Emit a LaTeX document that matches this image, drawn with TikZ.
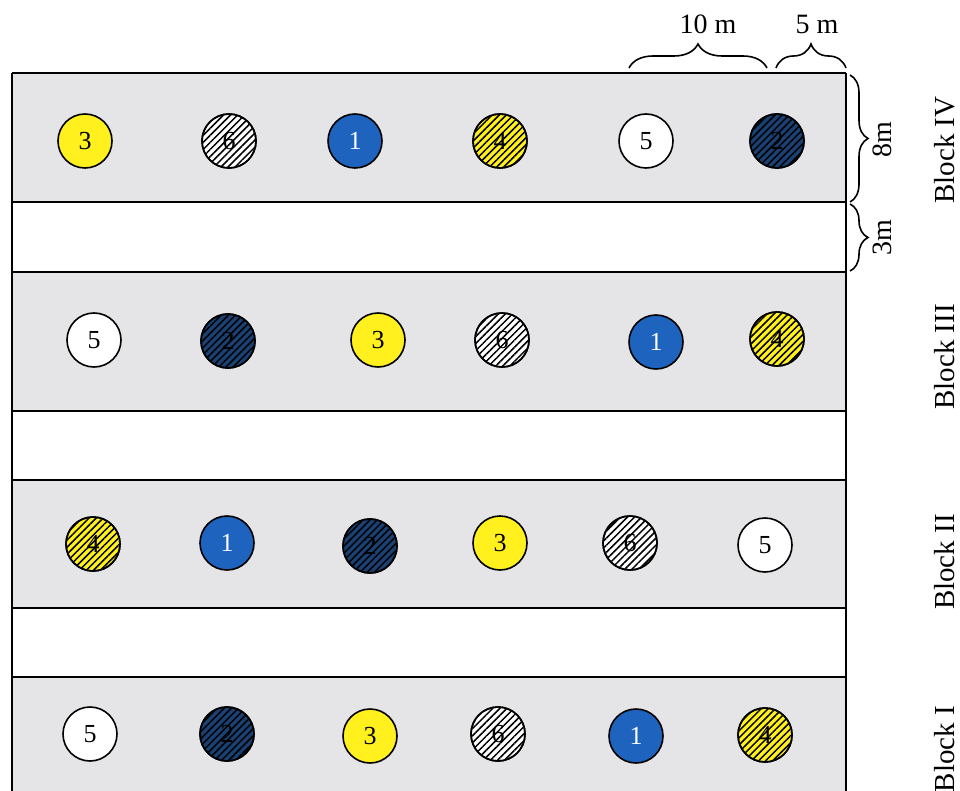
\documentclass[tikz,border=0pt]{standalone}
\usepackage{fontspec}
\setmainfont{Liberation Serif}
\usetikzlibrary{patterns.meta,decorations.pathreplacing}
\definecolor{bggray}{RGB}{229,229,232}
\definecolor{plotyellow}{RGB}{255,240,30}
\definecolor{plotblue}{RGB}{30,100,190}
\definecolor{plotnavy}{RGB}{25,65,115}
\begin{document}
\begin{tikzpicture}[x=1pt,y=-1pt,
  plot/.style={circle, draw=black, line width=1.6pt, minimum size=54pt, inner sep=0pt, font=\fontsize{26}{26}\selectfont},
  hatch/.style={pattern={Lines[angle=45,distance=5pt,line width=1.5pt]}},
  tA/.style={plot, fill=plotblue, text=white},
  tB/.style={plot, fill=plotnavy, text=black},
  tC/.style={plot, fill=plotyellow},
  tD/.style={plot, fill=plotyellow},
  tE/.style={plot, fill=white},
  tF/.style={plot, fill=white},
  strip/.style={fill=bggray},
  frameline/.style={line width=1.6pt, black},
  dimbrace/.style={decorate, decoration={brace, amplitude=#1}, line width=1.6pt},
  dimlabel/.style={font=\fontsize{28}{28}\selectfont},
  blocklabel/.style={font=\fontsize{29}{29}\selectfont, rotate=90}
]
\useasboundingbox (0,0) rectangle (960,791);
% strips
\fill[strip] (12,73) rectangle (846,202);
\fill[strip] (12,272) rectangle (846,411);
\fill[strip] (12,480) rectangle (846,608);
\fill[strip] (12,677) rectangle (846,791);
% frame lines
\draw[frameline] (12,73) -- (12,791);
\draw[frameline] (846,73) -- (846,791);
\foreach \yy in {73,202,272,411,480,608,677} {
  \draw[frameline] (12,\yy) -- (846,\yy);
}
% Block IV
\node[tC] (iv3) at (85,141) {3};
\node[tF] (iv6) at (229,141) {6};
\node[tA] (iv1) at (355,141) {1};
\node[tD] (iv4) at (500,141) {4};
\node[tE] (iv5) at (646,141) {5};
\node[tB] (iv2) at (777,141) {2};
% Block III
\node[tE] (iii5) at (94,340) {5};
\node[tB] (iii2) at (228,341) {2};
\node[tC] (iii3) at (378,340) {3};
\node[tF] (iii6) at (502,340) {6};
\node[tA] (iii1) at (656,342) {1};
\node[tD] (iii4) at (777,339) {4};
% Block II
\node[tD] (ii4) at (93,544) {4};
\node[tA] (ii1) at (227,543) {1};
\node[tB] (ii2) at (370,546) {2};
\node[tC] (ii3) at (500,543) {3};
\node[tF] (ii6) at (630,543) {6};
\node[tE] (ii5) at (765,545) {5};
% Block I
\node[tE] (i5) at (90,734) {5};
\node[tB] (i2) at (227,734) {2};
\node[tC] (i3) at (370,736) {3};
\node[tF] (i6) at (498,734) {6};
\node[tA] (i1) at (636,736) {1};
\node[tD] (i4) at (765,735) {4};
% hatching over hatched plots
\foreach \n in {iv6,iv4,iv2,iii2,iii6,iii4,ii4,ii2,ii6,i2,i6,i4} {
  \path[hatch] (\n.center) circle[radius=26.2];
  \draw[line width=1.6pt] (\n.center) circle[radius=27];
}
% braces
\coordinate (b10a) at (629,68);
\coordinate (b10b) at (767,68);
\coordinate (b5a) at (776,68);
\coordinate (b5b) at (846,68);
\coordinate (b8a) at (850,75);
\coordinate (b8b) at (850,202);
\coordinate (b3a) at (850,204);
\coordinate (b3b) at (850,271);
\draw[dimbrace=24] (b10a) -- (b10b);
\draw[dimbrace=24] (b5a) -- (b5b);
\draw[dimbrace=18] (b8a) -- (b8b);
\draw[dimbrace=18] (b3a) -- (b3b);
\node[dimlabel] (l10) at (708,24) {10 m};
\node[dimlabel] (l5) at (817,24) {5 m};
\node[dimlabel, rotate=90] (l8) at (882,140) {8m};
\node[dimlabel, rotate=90] (l3) at (882,238) {3m};
% block labels
\node[blocklabel] (bIV) at (945,150) {Block IV};
\node[blocklabel] (bIII) at (945,357) {Block III};
\node[blocklabel] (bII) at (945,562) {Block II};
\node[blocklabel] (bI) at (945,749) {Block I};
\end{tikzpicture}
\end{document}
